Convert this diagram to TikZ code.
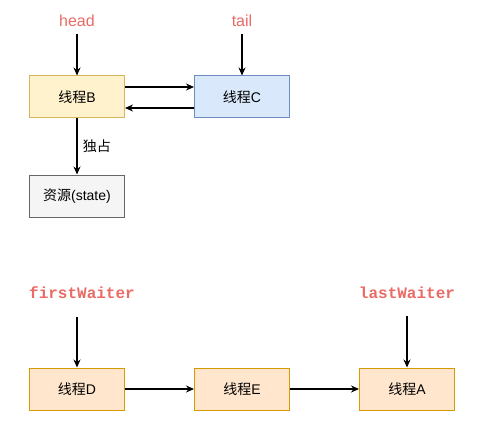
\documentclass[tikz,border=0pt]{standalone}
\usepackage{fontspec}
\setmainfont{Liberation Sans}
\setmonofont{Liberation Mono}
\newfontfamily\cjk{Noto Sans CJK SC}
\usetikzlibrary{positioning, arrows.meta}
\definecolor{ptrred}{HTML}{EA6B66}
\definecolor{yfill}{HTML}{FFF2CC}
\definecolor{yline}{HTML}{D6B656}
\definecolor{bfill}{HTML}{DAE8FC}
\definecolor{bline}{HTML}{6C8EBF}
\definecolor{ofill}{HTML}{FFE6CC}
\definecolor{oline}{HTML}{D79B00}
\definecolor{gfill}{HTML}{F5F5F5}
\definecolor{gline}{HTML}{666666}
\newcommand{\xc}{{\cjk 线程}} % thread prefix
\tikzset{
x=1pt, y=-1pt, % one unit is one pixel of the picture
node distance=69pt, % gap between two boxes of a row
>={Stealth[length=8pt,width=7pt]}, % filled arrow heads
thread/.style={draw, line width=1pt, minimum width=95pt, minimum height=42pt, font=\fontsize{14}{16}\selectfont},
ptr/.style={text=ptrred, font=\fontsize{16}{18}\selectfont}, % red pointer names
mptr/.style={text=ptrred, font=\ttfamily\bfseries\fontsize{16}{18}\selectfont},
link/.style={->, line width=1.2pt},
}
\begin{document}
\begin{tikzpicture}
        \useasboundingbox (0,0) rectangle (480,428);
        % lock queue
        \node[thread, fill=yfill, draw=yline] (B) at (77,97) {\xc B};
        \node[thread, fill=bfill, draw=bline, right=of B] (C) {\xc C};
        \node[thread, fill=gfill, draw=gline, below=56pt of B] (res) {{\cjk 资源}(state)};
        \node[ptr] (head) at (77,21) {head};
        \node[ptr] (tail) at (242,21) {tail};

        % condition queue
        \node[thread, fill=ofill, draw=oline] (D) at (77,389) {\xc D};
        \node[thread, fill=ofill, draw=oline, right=of D] (E) {\xc E};
        \node[thread, fill=ofill, draw=oline, right=of E] (A) {\xc A};
        \node[mptr] (first) at (82,293) {firstWaiter};
        \node[mptr] (last) at (407,293) {lastWaiter};

        \draw[link, shorten <=4pt] (head) -- (B);
        \draw[link, shorten <=4pt] (tail) -- (C);
        \draw[link] ([yshift=10pt]B.east) -- ([yshift=10pt]C.west);
        \draw[link] ([yshift=-11pt]C.west) -- ([yshift=-11pt]B.east);
        \draw[link] (B) -- node[right, font=\cjk\fontsize{14}{16}\selectfont, xshift=2pt] {独占} (res);
        \draw[link, shorten <=14pt] (first.south -| D.north) -- (D.north);
        \draw[link, shorten <=14pt] (last) -- (A);
        \draw[link] (D) -- (E);
        \draw[link] (E) -- (A);
      \end{tikzpicture}
\end{document}
